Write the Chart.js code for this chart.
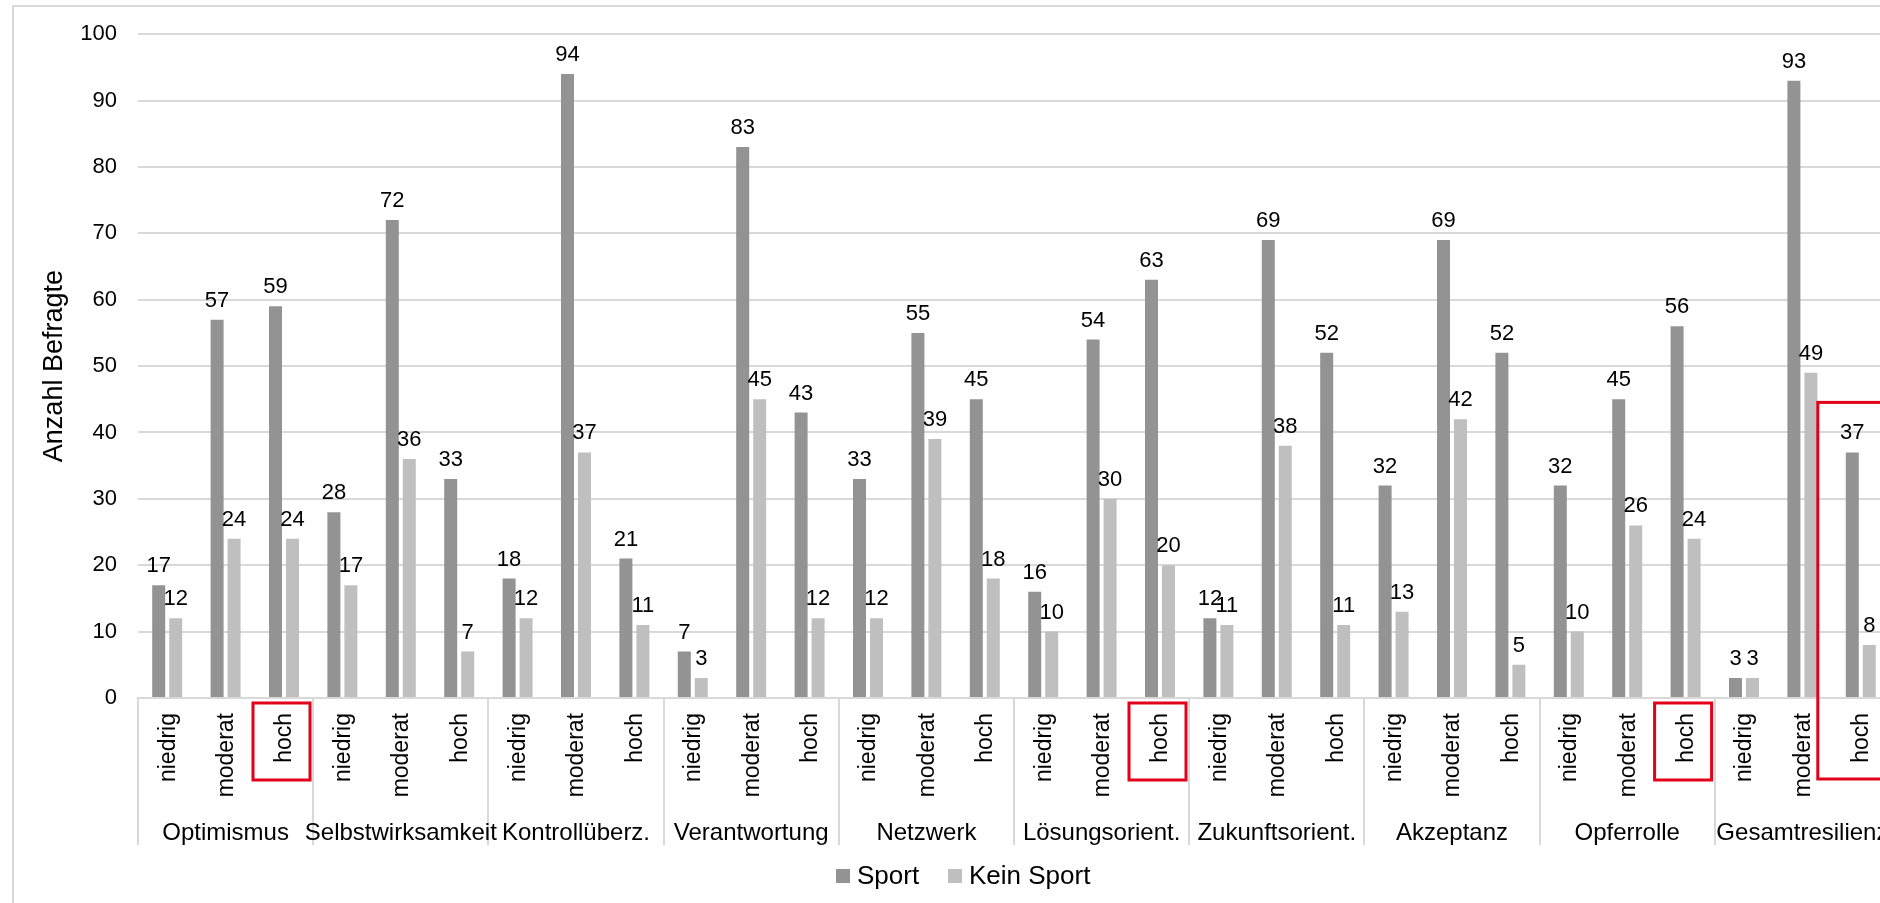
<!DOCTYPE html>
<html>
<head>
<meta charset="utf-8">
<title>Resilienz und Sport</title>
<script src="https://cdn.jsdelivr.net/npm/chart.js@4.4.1/dist/chart.umd.min.js"></script>
<style>
  html, body { margin: 0; padding: 0; overflow: hidden; background: #fff; }
  canvas { display: block; }
</style>
</head>
<body>
<canvas id="myChart" width="1900" height="903"></canvas>
<script>
// resilience factors, each split into three levels
const groups = ['Optimismus', 'Selbstwirksamkeit', 'Kontrollüberz.', 'Verantwortung', 'Netzwerk',
  'Lösungsorient.', 'Zukunftsorient.', 'Akzeptanz', 'Opferrolle', 'Gesamtresilienz'];
const levels = ['niedrig', 'moderat', 'hoch'];

// respondents per factor/level (niedrig, moderat, hoch)
const sport = [17, 57, 59, 28, 72, 33, 18, 94, 21, 7, 83, 43, 33, 55, 45,
  16, 54, 63, 12, 69, 52, 32, 69, 52, 32, 45, 56, 3, 93, 37];
const keinSport = [12, 24, 24, 17, 36, 7, 12, 37, 11, 3, 45, 12, 12, 39, 18,
  10, 30, 20, 11, 38, 11, 13, 42, 5, 10, 26, 24, 3, 49, 8];

const yTicks = [0, 10, 20, 30, 40, 50, 60, 70, 80, 90, 100];

// cells framed in red
const marked = [['Optimismus', 'hoch'], ['Lösungsorient.', 'hoch'], ['Opferrolle', 'hoch']];
const markedTall = [['Gesamtresilienz', 'hoch']];

const labels = [];
groups.forEach(g => levels.forEach(l => labels.push(g + ' ' + l)));

const FONT = '"Liberation Sans", Arial, Helvetica, sans-serif';
const GRID = '#d9d9d9';
const RED = '#e3001b';
const COL_SPORT = '#939393';
const COL_KEIN = '#bfbfbf';

Chart.defaults.font.family = FONT;
Chart.defaults.color = '#000';

const catIndex = (g, l) => groups.indexOf(g) * levels.length + levels.indexOf(l);

const extras = {
  id: 'extras',
  beforeDraw(chart) {
    const ctx = chart.ctx;
    ctx.save();
    ctx.strokeStyle = GRID;
    ctx.lineWidth = 2;
    ctx.strokeRect(13, 6, chart.width + 40, chart.height + 40);
    ctx.restore();
  },
  afterDatasetsDraw(chart) {
    const ctx = chart.ctx;
    ctx.save();
    ctx.font = '22px ' + FONT;
    ctx.fillStyle = '#000';
    ctx.textAlign = 'center';
    ctx.textBaseline = 'alphabetic';
    chart.data.datasets.forEach((ds, di) => {
      chart.getDatasetMeta(di).data.forEach((bar, i) => {
        ctx.fillText(String(ds.data[i]), bar.x, bar.y - 13);
      });
    });
    ctx.restore();
  },
  afterDraw(chart) {
    const ctx = chart.ctx;
    const x = chart.scales.x, y = chart.scales.y;
    const bottom = chart.chartArea.bottom;
    const catW = (x.right - x.left) / labels.length;
    ctx.save();

    // group separators below the axis
    ctx.strokeStyle = GRID;
    ctx.lineWidth = 2;
    for (let g = 0; g <= groups.length; g++) {
      const sx = Math.round(x.left + g * levels.length * catW);
      ctx.beginPath();
      ctx.moveTo(sx, bottom);
      ctx.lineTo(sx, bottom + 147);
      ctx.stroke();
    }

    // level labels, rotated
    ctx.fillStyle = '#000';
    ctx.font = '23px ' + FONT;
    ctx.textAlign = 'right';
    ctx.textBaseline = 'middle';
    labels.forEach((lab, i) => {
      const cx = x.getPixelForValue(i);
      ctx.save();
      ctx.translate(cx + 1, bottom + 15);
      ctx.rotate(-Math.PI / 2);
      ctx.fillText(levels[i % levels.length], 0, 0);
      ctx.restore();
    });

    // group names
    ctx.font = '24px ' + FONT;
    ctx.textAlign = 'center';
    ctx.textBaseline = 'alphabetic';
    groups.forEach((g, gi) => {
      const gx = x.left + (gi * levels.length + levels.length / 2) * catW;
      ctx.fillText(g, gx, bottom + 142);
    });

    // red frames
    ctx.strokeStyle = RED;
    ctx.lineWidth = 3;
    marked.forEach(([g, l]) => {
      const cx = x.getPixelForValue(catIndex(g, l));
      ctx.strokeRect(cx - 31, bottom + 5, 57, 77);
    });
    markedTall.forEach(([g, l]) => {
      const i = catIndex(g, l);
      const cx = x.getPixelForValue(i);
      const top = y.getPixelForValue(sport[i]) - 50;
      ctx.strokeRect(cx - 43, top, 86, bottom + 81 - top);
    });

    // legend
    const items = [['Sport', COL_SPORT, 836], ['Kein Sport', COL_KEIN, 948]];
    ctx.font = '26px ' + FONT;
    ctx.textAlign = 'left';
    ctx.textBaseline = 'middle';
    items.forEach(([name, col, lx]) => {
      ctx.fillStyle = col;
      ctx.fillRect(lx, 869, 14, 14);
      ctx.fillStyle = '#000';
      ctx.fillText(name, lx + 21, 877);
    });
    ctx.restore();
  }
};

new Chart(document.getElementById('myChart'), {
  type: 'bar',
  data: {
    labels: labels,
    datasets: [
      { label: 'Sport', data: sport, backgroundColor: COL_SPORT,
        categoryPercentage: 0.582, barPercentage: 0.765 },
      { label: 'Kein Sport', data: keinSport, backgroundColor: COL_KEIN,
        categoryPercentage: 0.582, barPercentage: 0.765 }
    ]
  },
  options: {
    responsive: false,
    animation: false,
    layout: { padding: { top: 29, right: 10, left: 0, bottom: 0 } },
    plugins: { legend: { display: false }, tooltip: { enabled: false } },
    scales: {
      x: {
        grid: { display: false },
        border: { color: GRID, width: 2 },
        ticks: { display: false },
        afterFit(s) { s.height = 205; }
      },
      y: {
        min: 0,
        max: 100,
        afterBuildTicks(s) { s.ticks = yTicks.map(v => ({ value: v })); },
        ticks: { padding: 21, color: '#000', font: { size: 22 } },
        grid: { color: GRID, lineWidth: 2, drawTicks: false },
        border: { display: false },
        title: { display: true, text: 'Anzahl Befragte', color: '#000',
          font: { size: 27 }, padding: { top: 38, bottom: 0 } },
        afterFit(s) { s.width = 138; }
      }
    }
  },
  plugins: [extras]
});
</script>
</body>
</html>
